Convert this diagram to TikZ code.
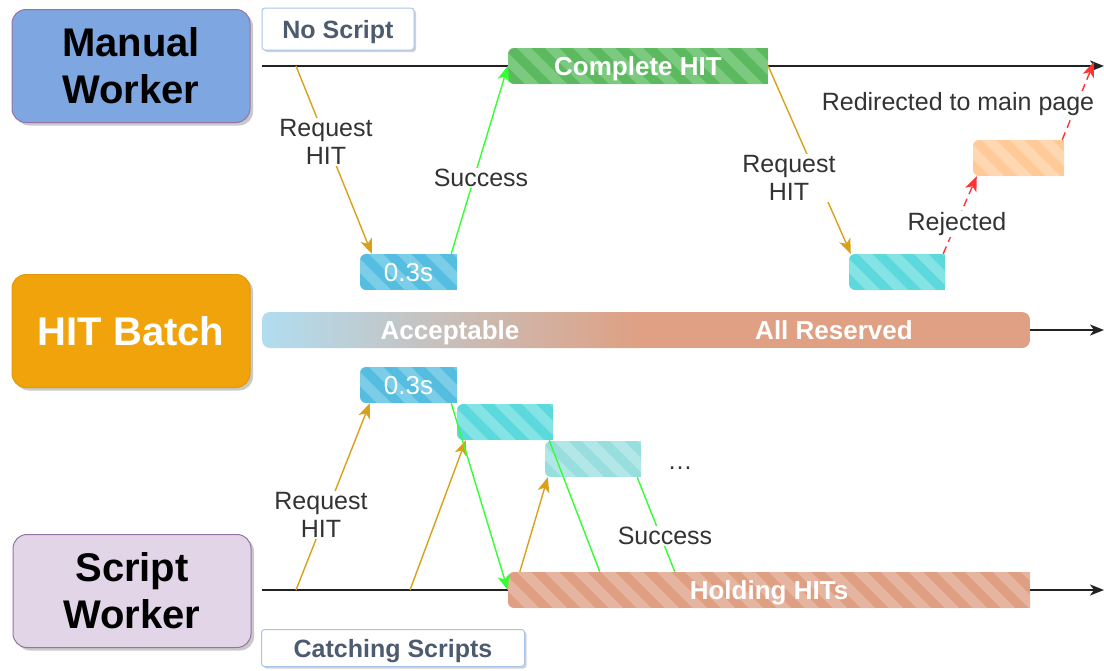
\documentclass[tikz,border=0pt]{standalone}
\usepackage{fontspec}
\setmainfont{Liberation Sans}
\usetikzlibrary{arrows.meta,shadows,calc}
\definecolor{mwfill}{HTML}{7EA6E0}
\definecolor{mwborder}{HTML}{9673A6}
\definecolor{hbfill}{HTML}{F0A30A}
\definecolor{hbborder}{HTML}{E09A0A}
\definecolor{swfill}{HTML}{E1D5E7}
\definecolor{swborder}{HTML}{9673A6}
\definecolor{tagborder}{HTML}{A9C4EB}
\definecolor{tagtext}{HTML}{4D5B70}
\definecolor{labeltext}{HTML}{333333}
\definecolor{reqcol}{HTML}{D9A11A}
\definecolor{okcol}{HTML}{33FF33}
\definecolor{rejcol}{HTML}{FF3333}
\definecolor{linecol}{HTML}{222222}
\definecolor{gbase}{HTML}{5DB960}
\definecolor{gstripe}{HTML}{7CC980}
\definecolor{bbase}{HTML}{55BEE0}
\definecolor{bstripe}{HTML}{7BCDE8}
\definecolor{cbase}{HTML}{5CD9DD}
\definecolor{cstripe}{HTML}{84E3E5}
\definecolor{lcbase}{HTML}{99DEDE}
\definecolor{lcstripe}{HTML}{B3E7E7}
\definecolor{obase}{HTML}{FFC998}
\definecolor{ostripe}{HTML}{FFD8B2}
\definecolor{hbase}{HTML}{DE9F83}
\definecolor{hstripe}{HTML}{E6B5A0}
\definecolor{barblue}{HTML}{B1DDF0}
\definecolor{barsalmon}{HTML}{DFA083}
% #1 name, #2 x1, #3 y1, #4 x2, #5 y2, #6 base, #7 stripe, #8 text style, #9 text
\newcommand{\stripebar}[9]{%
  \begin{scope}
    \clip (#2,#3) rectangle (#4,#5);
    \clip[rounded corners=6pt] (#2,#3) rectangle ({#4+20},#5);
    \fill[#6] (#2,#3) rectangle (#4,#5);
    \foreach \s in {0,28,...,616} {
      \draw[#7, line width=10pt] ({#2-50+\s},{#3-10}) -- ++(60,60);
    }
  \end{scope}
  \node[minimum width={#4-#2}, minimum height={#5-#3}, inner sep=0pt] (#1)
    at ({(#2+#4)/2},{(#3+#5)/2}) {};
  \node[#8] at (#1.center) {#9};
}
\begin{document}
\begin{tikzpicture}[x=1pt,y=-1pt,
  bigbox/.style={rounded corners=14pt, minimum width=238pt, minimum height=113pt,
    line width=1pt, align=center, inner sep=0pt,
    font=\fontsize{40}{47}\selectfont\bfseries,
    drop shadow={shadow xshift=3pt, shadow yshift=-3pt, opacity=0.3, fill=black!70}},
  tagbox/.style={draw=tagborder, fill=white, rounded corners=3pt, line width=1pt,
    inner sep=0pt, text=tagtext, text height=18pt, text depth=0pt,
    font=\fontsize{25}{28}\selectfont\bfseries,
    drop shadow={shadow xshift=2pt, shadow yshift=-2pt, opacity=0.25, fill=black!70}},
  barlabel/.style={inner sep=0pt, text=white, text height=18.5pt, text depth=0pt,
    font=\fontsize{26}{30}\selectfont\bfseries},
  timelabel/.style={inner sep=0pt, text=white, text height=18.5pt, text depth=0pt,
    font=\fontsize{26}{30}\selectfont},
  lbl/.style={fill=white, inner sep=1pt, align=center, text=labeltext,
    font=\fontsize{25}{28}\selectfont},
  timeline/.style={draw=linecol, line width=1.6pt, -{Stealth[length=14pt,width=11pt,inset=4pt]}},
  req/.style={draw=reqcol, line width=1.4pt, -{Stealth[length=15pt,width=12pt,inset=4pt]}},
  okline/.style={draw=okcol, line width=1.4pt},
  okarrow/.style={okline, -{Stealth[length=15pt,width=12pt,inset=4pt]}},
  rej/.style={draw=rejcol, line width=1.4pt, dash pattern=on 8pt off 5pt,
    -{Stealth[length=15pt,width=12pt,inset=4pt]}}
]
\useasboundingbox (0,0) rectangle (1104,670);

% actors
\node[bigbox, fill=mwfill, draw=mwborder] (mw) at (131,66) {Manual\\Worker};
\node[bigbox, fill=hbfill, draw=hbborder, text=white] (hb) at (131,331) {HIT Batch};
\node[bigbox, fill=swfill, draw=swborder] (sw) at (132,591) {Script\\Worker};

\node[tagbox, minimum width=152pt, minimum height=42pt] (ns) at (338,29) {No Script};
\node[tagbox, minimum width=263pt, minimum height=37pt] (cs) at (393,648) {Catching Scripts};

% timelines
\coordinate (mstart) at (262,66);
\coordinate (mend) at (1104,66);
\coordinate (sstart) at (262,590);
\coordinate (send) at (1104,590);
\draw[timeline] (mstart) -- (mend);
\draw[timeline] (sstart) -- (send);

% batch bar
\begin{scope}
  \clip[rounded corners=8pt] (262,312) rectangle (1030,348);
  \shade[left color=barblue, right color=barsalmon] (262,312) rectangle (640,348);
  \fill[barsalmon] (640,312) rectangle (1030,348);
\end{scope}
\node[minimum width=768pt, minimum height=36pt, inner sep=0pt] (bar) at (646,330) {};
\node[barlabel] (acc) at (450,330) {Acceptable};
\node[barlabel] (allr) at (834,330) {All Reserved};
\coordinate (bend) at (1104,330);
\draw[timeline] (bar.east) -- (bend);

% striped boxes
\stripebar{chit}{508}{48}{768}{84}{gbase}{gstripe}{barlabel}{Complete HIT}
\stripebar{t03}{360}{254}{457}{290}{bbase}{bstripe}{timelabel}{0.3s}
\stripebar{cy1}{849}{254}{945}{290}{cbase}{cstripe}{timelabel}{}
\stripebar{or1}{973}{140}{1064}{176}{obase}{ostripe}{timelabel}{}
\stripebar{b03}{360}{367}{457}{403}{bbase}{bstripe}{timelabel}{0.3s}
\stripebar{cy2}{457}{404}{553}{440}{cbase}{cstripe}{timelabel}{}
\stripebar{cy3}{545}{441}{641}{477}{lcbase}{lcstripe}{timelabel}{}
\stripebar{hold}{508}{572}{1030}{608}{hbase}{hstripe}{barlabel}{Holding HITs}

% top connectors
\coordinate (m1) at (296,66);
\coordinate (redir) at (1094,62);
\draw[req] (m1) -- ([xshift=12pt]t03.north west);
\draw[okarrow] ([xshift=-6pt]t03.north east) -- (chit.west);
\draw[req] (chit.east) -- ([xshift=2pt]cy1.north west);
\draw[rej] ([xshift=-2pt]cy1.north east) -- ([xshift=4pt]or1.south west);
\draw[rej] ([xshift=-2pt]or1.north east) -- (redir);

% bottom connectors
\coordinate (s1) at (296,590);
\coordinate (s2) at (410,590);
\draw[req] (s1) -- ([xshift=10pt]b03.south west);
\draw[req] (s2) -- ([xshift=9pt]cy2.south west);
\draw[req] ([xshift=12pt]hold.north west) -- ([xshift=3pt]cy3.south west);
\draw[okarrow] ([xshift=-6pt]b03.south east) -- (hold.west);
\draw[okline] ([xshift=-4pt]cy2.south east) -- ([xshift=92pt]hold.north west);
\draw[okline] ([xshift=-4pt]cy3.south east) -- ([xshift=167pt]hold.north west);

% labels
\node[lbl] (l1) at (326,142) {Request\\HIT};
\node[lbl] (l2) at (481,178) {Success};
\node[lbl] (l3) at (789,178) {Request\\HIT};
\node[lbl] (l4) at (957,224) {Rejected};
\node[lbl] (l5) at (958,104) {Redirected to main page};
\node[lbl] (l6) at (321,515) {Request\\HIT};
\node[lbl] (l7) at (665,536) {Success};
\node[lbl, fill=none] (dots) at (680,468) {…};
\end{tikzpicture}
\end{document}
